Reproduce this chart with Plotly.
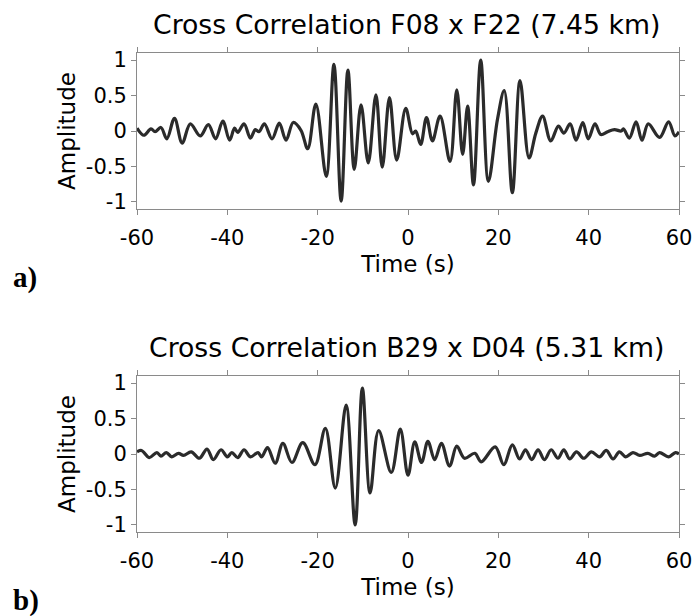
import plotly.graph_objects as go

# ---- data: peaks/troughs ----
t_top = [-60, -58.5, -56.9, -56.0, -54.7, -53.4, -51.7, -50.0, -48.2, -46.0, -44.2, -42.6,
         -41.0, -39.5, -38.4, -37.7, -36.3, -34.9, -33.8, -33.0, -31.8, -30.1, -28.5, -27.0,
         -25.4, -23.7, -22.2, -20.4, -18.1, -16.4, -14.8, -13.3, -11.9, -10.4, -8.8, -7.1,
         -5.7, -4.1, -2.5, -0.5, 1.0, 1.7, 2.8, 4.1, 5.4, 7.1, 9.3, 10.8, 12.1, 13.2, 14.5,
         16.1, 17.8, 19.8, 21.3, 23.1, 24.8, 26.8, 28.3, 29.8, 31.6, 33.3, 34.5, 35.9, 37.2,
         38.7, 39.9, 41.4, 42.7, 44.2, 45.7, 47.2, 47.7, 49.0, 50.5, 51.8, 53.2, 55.7, 57.7,
         59.1, 60]
a_top = [0.04, -0.06, 0.03, -0.01, 0.05, -0.11, 0.18, -0.17, 0.10, -0.07, 0.09, -0.11,
         0.14, -0.13, 0.04, -0.02, 0.10, -0.10, 0.02, -0.01, 0.10, -0.11, 0.11, -0.13,
         0.12, 0.01, -0.25, 0.38, -0.64, 0.94, -0.99, 0.86, -0.54, 0.37, -0.45, 0.51,
         -0.51, 0.47, -0.41, 0.32, -0.04, 0.0, -0.19, 0.19, -0.14, 0.21, -0.43, 0.58, -0.33, 0.35, -0.76,
         1.0, -0.71, 0.16, 0.57, -0.87, 0.71, -0.38, -0.03, 0.21, -0.14, 0.07, -0.03, 0.10, -0.13,
         0.12, -0.11, 0.10, -0.05, -0.01, 0.02, 0.0, 0.03, -0.10, 0.13, -0.13, 0.10, -0.09, 0.13,
         -0.07, -0.01]

t_bot = [-60, -59.0, -57.3, -55.6, -54.7, -53.5, -52.3, -50.8, -49.7, -48.0, -46.2, -44.5,
         -43.1, -41.4, -40.0, -39.0, -37.7, -36.3, -34.9, -33.2, -32.4, -31.1, -29.4, -27.7,
         -25.7, -23.3, -20.6, -18.3, -16.1, -13.7, -11.7, -10.1, -8.4, -6.5, -3.7, -1.7,
         0.0, 1.5, 3.0, 4.4, 5.9, 7.4, 9.2, 10.8, 12.5, 14.8, 16.2, 19.3, 21.2, 23.1,
         24.7, 26.0, 27.4, 28.8, 30.2, 31.7, 33.2, 34.5, 35.8, 37.3, 38.9, 40.6, 42.4, 43.9,
         45.4, 46.8, 48.2, 49.8, 51.3, 53.1, 54.6, 55.7, 57.7, 59.2, 60]
a_bot = [0.03, 0.05, -0.05, 0.02, -0.03, 0.02, -0.04, 0.01, -0.02, 0.03, -0.06, 0.07,
         -0.08, 0.06, -0.04, 0.02, -0.05, 0.06, -0.04, 0.02, -0.04, 0.09, -0.13, 0.15,
         -0.12, 0.16, -0.15, 0.36, -0.48, 0.69, -1.0, 0.93, -0.55, 0.33, -0.26, 0.35,
         -0.30, 0.17, -0.12, 0.18, -0.08, 0.15, -0.17, 0.11, -0.06, 0.01, -0.11, 0.10, -0.15, 0.13,
         -0.07, 0.06, -0.08, 0.06, -0.08, 0.06, -0.06, 0.06, -0.07, 0.03, -0.06, 0.03, -0.04, 0.05,
         -0.07, 0.03, -0.04, 0.02, -0.02, 0.01, -0.03, 0.02, -0.04, 0.02, 0.0]

x_ticks = [-60, -40, -20, 0, 20, 40, 60]
y_ticks = [-1, -0.5, 0, 0.5, 1]
y_ticklabels = ["-1", "-0.5", "0", "0.5", "1"]
titles = ["Cross Correlation F08 x F22 (7.45 km)", "Cross Correlation B29 x D04 (5.31 km)"]
panel_labels = ["a)", "b)"]

W, H = 696, 616
ML, MR, MT, MB = 137, 17, 53, 84
PH = H - MT - MB
def px_to_paper_y(py):
    return (H - MB - py) / PH
def px_to_paper_x(px):
    return (px - ML) / (W - ML - MR)

SANS = "DejaVu Sans"
LINE = "#2b2b2b"
FRAME = "#8a8a8a"

fig = go.Figure()
fig.add_trace(go.Scatter(x=t_top, y=a_top, mode="lines", xaxis="x", yaxis="y",
                         line=dict(color=LINE, width=3.2, shape="spline", smoothing=1.0),
                         showlegend=False))
fig.add_trace(go.Scatter(x=t_bot, y=a_bot, mode="lines", xaxis="x2", yaxis="y2",
                         line=dict(color=LINE, width=3.2, shape="spline", smoothing=1.0),
                         showlegend=False))

def xax(anchor):
    return dict(range=[-60, 60], tickvals=x_ticks, ticktext=[str(v) for v in x_ticks],
                ticks="outside", ticklen=5, tickcolor=FRAME, showline=True, linecolor=FRAME,
                linewidth=1, mirror="ticks", showgrid=False, zeroline=False, anchor=anchor,
                ticklabelstandoff=5,
                tickfont=dict(family=SANS, size=21, color="black"),
                title=dict(text="Time (s)", font=dict(family=SANS, size=23, color="black"), standoff=6))

def yax(domain, anchor):
    return dict(range=[-1.1, 1.1], domain=domain, tickvals=y_ticks, ticktext=y_ticklabels,
                ticks="outside", ticklen=5, tickcolor=FRAME, showline=True, linecolor=FRAME,
                linewidth=1, mirror="ticks", showgrid=False, zeroline=False, anchor=anchor,
                tickfont=dict(family=SANS, size=21, color="black"),
                title=dict(text="Amplitude", font=dict(family=SANS, size=23, color="black"), standoff=3))

top_dom = [px_to_paper_y(209), 1.0]
bot_dom = [0.0, px_to_paper_y(376)]

annotations = []
for i, (ttl, lab) in enumerate(zip(titles, panel_labels)):
    off = 323 * i
    annotations.append(dict(text=ttl, x=px_to_paper_x(406), y=px_to_paper_y(24 + off),
                            xref="paper", yref="paper", showarrow=False, xanchor="center",
                            yanchor="middle", font=dict(family=SANS, size=26.7, color="black")))
    annotations.append(dict(text="<b>" + lab + "</b>", x=px_to_paper_x(11), y=px_to_paper_y(277 + off),
                            xref="paper", yref="paper", showarrow=False, xanchor="left",
                            yanchor="middle", font=dict(family="Liberation Serif", size=29, color="black")))

fig.update_layout(
    width=W, height=H, margin=dict(l=ML, r=MR, t=MT, b=MB, autoexpand=False),
    paper_bgcolor="white", plot_bgcolor="white",
    xaxis=xax("y"), yaxis=yax(top_dom, "x"),
    xaxis2=xax("y2"), yaxis2=yax(bot_dom, "x2"),
    annotations=annotations,
)
fig.write_html("out.html")
